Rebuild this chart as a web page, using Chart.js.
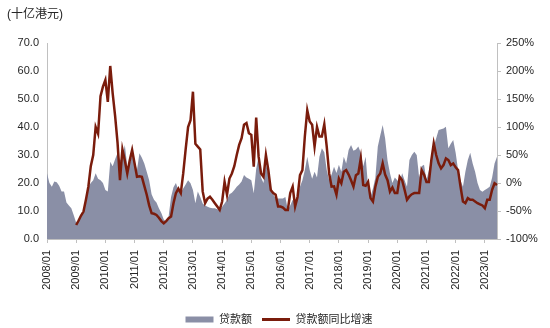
<!DOCTYPE html>
<html>
<head>
<meta charset="utf-8">
<script src="https://cdn.jsdelivr.net/npm/chart.js@4"></script>
<style>
  html, body { margin: 0; padding: 0; background: #fff; }
  #wrap { width: 550px; height: 328px; }
</style>
</head>
<body>
<div id="wrap"><canvas id="loanChart" width="550" height="328"></canvas></div>
<script>
// 港元贷款额（左轴，十亿港元）与同比增速（右轴，%）月度走势

var FONT = "Arial, 'Liberation Sans', 'Noto Sans CJK SC', sans-serif";
var AREA_COLOR = "#8a8fa6";
var LINE_COLOR = "#7a1c0c";
var AXIS_COLOR = "#c0c0c0";
var TEXT_COLOR = "#262626";

var START_YEAR = 2008;
var MONTH_COUNT = 186;   // 2008/01 - 2023/06

// 贷款额（十亿港元）
var loanAmount = [
  23.5, 20.0, 18.7, 20.5, 20.3, 19.0, 17.0, 17.0, 13.0, 12.0, 11.0, 8.5,   // 2008
  5.8, 7.0, 8.5, 10.0, 14.0, 18.7, 20.0, 21.0, 23.5, 21.5, 21.0, 20.0,     // 2009
  17.5, 17.0, 27.6, 26.0, 28.5, 30.7, 28.0, 29.0, 33.6, 26.0, 27.0, 30.0,  // 2010
  28.0, 24.6, 30.6, 29.0, 27.0, 24.0, 21.0, 16.0, 14.0, 13.0, 11.0, 9.3,   // 2011
  7.0, 6.2, 8.0, 15.0, 18.5, 20.0, 17.5, 16.5, 18.0, 19.5, 21.0, 19.9,     // 2012
  17.5, 12.8, 17.0, 15.0, 12.7, 12.0, 11.5, 11.2, 11.0, 11.0, 10.6, 10.4,  // 2013
  11.5, 12.7, 14.0, 16.0, 16.5, 17.5, 18.7, 19.5, 20.5, 22.9, 22.0, 21.5,  // 2014
  21.0, 16.3, 25.0, 29.4, 22.0, 20.0, 27.0, 23.0, 18.0, 16.0, 14.5, 14.5,  // 2015
  14.5, 14.5, 15.0, 10.4, 12.0, 14.0, 12.7, 16.0, 18.7, 21.0, 24.6, 29.4,  // 2016
  24.6, 21.5, 24.0, 22.0, 29.4, 32.4, 31.0, 24.6, 21.0, 23.0, 25.8, 23.6,  // 2017
  26.5, 24.0, 29.4, 27.0, 31.8, 33.6, 31.5, 32.0, 33.0, 30.8, 26.0, 29.4,  // 2018
  18.7, 15.1, 18.0, 22.0, 33.0, 37.0, 40.7, 36.0, 28.0, 23.5, 20.0, 22.0,  // 2019
  21.0, 20.0, 23.5, 21.0, 18.7, 28.2, 30.0, 31.2, 30.0, 22.0, 26.0, 26.5,  // 2020
  21.0, 24.6, 28.0, 33.0, 36.0, 38.9, 39.2, 39.5, 40.1, 32.4, 34.0, 35.4,  // 2021
  30.8, 24.6, 21.0, 18.7, 24.0, 28.2, 30.8, 27.0, 24.0, 20.0, 17.5, 16.9,  // 2022
  17.5, 18.0, 18.7, 22.0, 27.0, 29.4                                       // 2023
];

// 贷款额同比增速（%），2008 年无同比
var loanYoY = [
  null, null, null, null, null, null, null, null, null, null, null, null, // 2008
  -75, -67, -58, -51, -30, -6.6, 30, 50, 100, 88, 155, 172,               // 2009
  184, 145, 209, 160, 120, 72, 5, 60, 40, 17, 40, 59,                     // 2010
  35, 11, 12, 11, -5, -21, -40, -54, -55, -57, -62, -68,                  // 2011
  -72, -68, -63, -60, -36, -18, -10, -18, 17, 60, 100, 112,               // 2012
  163, 70, 65, 60, -15, -36, -28, -24.5, -30, -36, -42, -48,              // 2013
  -33, 2, -21, 8, 17, 30, 50, 68, 80, 104, 107, 89,                       // 2014
  86, 29, 117, 47, 17, 11, 50, 23, -12.5, -18, -21, -42,                  // 2015
  -42, -44, -48, -48, -18, -6.5, -42, -25, 14, 23, 83, 130,               // 2016
  110, 104, 65, 100, 83, 83, 105, 65, 17, -6.5, -6, -21,                  // 2017
  8, -0.5, 20, 23, 15, 5, -6.5, 14, 17, 44, -3.5, -5,                     // 2018
  2, -27, -33, -6.5, 11, 17, 35, 15, 5, -15.5, -8, -18,                   // 2019
  -18, 11, 5, -12, -30, -24, -20, -18, -18, -18, 23, 15,                  // 2020
  2, 2, 41, 71, 50, 35, 26, 32, 44, 41, 32, 35,                           // 2021
  28, 23, -6.5, -33, -36, -27, -30, -30, -33, -36, -38, -40,              // 2022
  -45, -30, -30, -12, -0.5, -3.5                                          // 2023
];

// 月份标签 yyyy/mm
var monthLabels = [];
for (var i = 0; i < MONTH_COUNT; i++) {
  var y = START_YEAR + Math.floor(i / 12);
  var m = (i % 12) + 1;
  monthLabels.push(y + "/" + (m < 10 ? "0" + m : m));
}

var seriesNames = ["贷款额", "贷款额同比增速"];

// 左上角单位
var unitTitle = {
  id: "unitTitle",
  afterDraw: function(chart) {
    var ctx = chart.ctx;
    ctx.save();
    ctx.font = "12px " + FONT;
    ctx.fillStyle = TEXT_COLOR;
    ctx.textBaseline = "middle";
    ctx.textAlign = "left";
    ctx.fillText("(十亿港元)", 7, 15);
    ctx.restore();
  }
};

new Chart(document.getElementById("loanChart"), {
  type: "line",
  data: {
    labels: monthLabels,
    datasets: [
      {
        label: seriesNames[0],
        data: loanAmount,
        yAxisID: "yLeft",
        fill: "origin",
        backgroundColor: AREA_COLOR,
        borderWidth: 0,
        pointRadius: 0,
        tension: 0,
        order: 2
      },
      {
        label: seriesNames[1],
        data: loanYoY,
        yAxisID: "yRight",
        fill: false,
        borderColor: LINE_COLOR,
        borderWidth: 2.5,
        pointRadius: 0,
        tension: 0,
        spanGaps: false,
        order: 1
      }
    ]
  },
  options: {
    responsive: false,
    animation: false,
    devicePixelRatio: 1,
    layout: { padding: { left: 8, right: 0, top: 43, bottom: -7 } },
    plugins: {
      tooltip: { enabled: false },
      legend: {
        display: true,
        position: "bottom",
        labels: {
          usePointStyle: true,
          pointStyleWidth: 28,
          boxHeight: 6,
          padding: 10,
          color: TEXT_COLOR,
          font: { family: FONT, size: 11 },
          generateLabels: function(chart) {
            return chart.data.datasets.map(function(ds, i) {
              var isArea = i === 0;
              return {
                text: ds.label,
                datasetIndex: i,
                fillStyle: isArea ? AREA_COLOR : LINE_COLOR,
                strokeStyle: isArea ? AREA_COLOR : LINE_COLOR,
                lineWidth: isArea ? 0 : 3,
                pointStyle: isArea ? "rect" : "line",
                fontColor: TEXT_COLOR,
                hidden: false
              };
            });
          }
        }
      }
    },
    scales: {
      x: {
        type: "category",
        offset: false,
        grid: {
          display: true,
          drawOnChartArea: false,
          tickLength: 4,
          tickColor: function(ctx) { return ctx.index % 12 === 0 ? AXIS_COLOR : "rgba(0,0,0,0)"; }
        },
        border: { color: AXIS_COLOR, width: 1 },
        ticks: {
          autoSkip: false,
          minRotation: 90,
          maxRotation: 90,
          padding: 7,
          color: TEXT_COLOR,
          font: { family: FONT, size: 11 },
          callback: function(v, i) { return i % 12 === 0 ? this.getLabelForValue(v) : ""; }
        },
        afterFit: function(s) { s.height = 65; }
      },
      yLeft: {
        type: "linear",
        position: "left",
        min: 0,
        max: 70,
        grid: { display: false, drawTicks: false },
        border: { color: AXIS_COLOR, width: 1 },
        ticks: {
          stepSize: 10,
          padding: 8,
          color: TEXT_COLOR,
          font: { family: FONT, size: 11 },
          callback: function(v) { return v.toFixed(1); }
        },
        afterFit: function(s) { s.width = 39; }
      },
      yRight: {
        type: "linear",
        position: "right",
        min: -100,
        max: 250,
        grid: { display: true, drawOnChartArea: false, tickLength: 4, tickColor: AXIS_COLOR },
        border: { color: AXIS_COLOR, width: 1 },
        ticks: {
          stepSize: 50,
          padding: 5,
          color: TEXT_COLOR,
          font: { family: FONT, size: 11 },
          callback: function(v) { return v + "%"; }
        },
        afterFit: function(s) { s.width = 53; }
      }
    }
  },
  plugins: [unitTitle]
});
</script>
</body>
</html>
